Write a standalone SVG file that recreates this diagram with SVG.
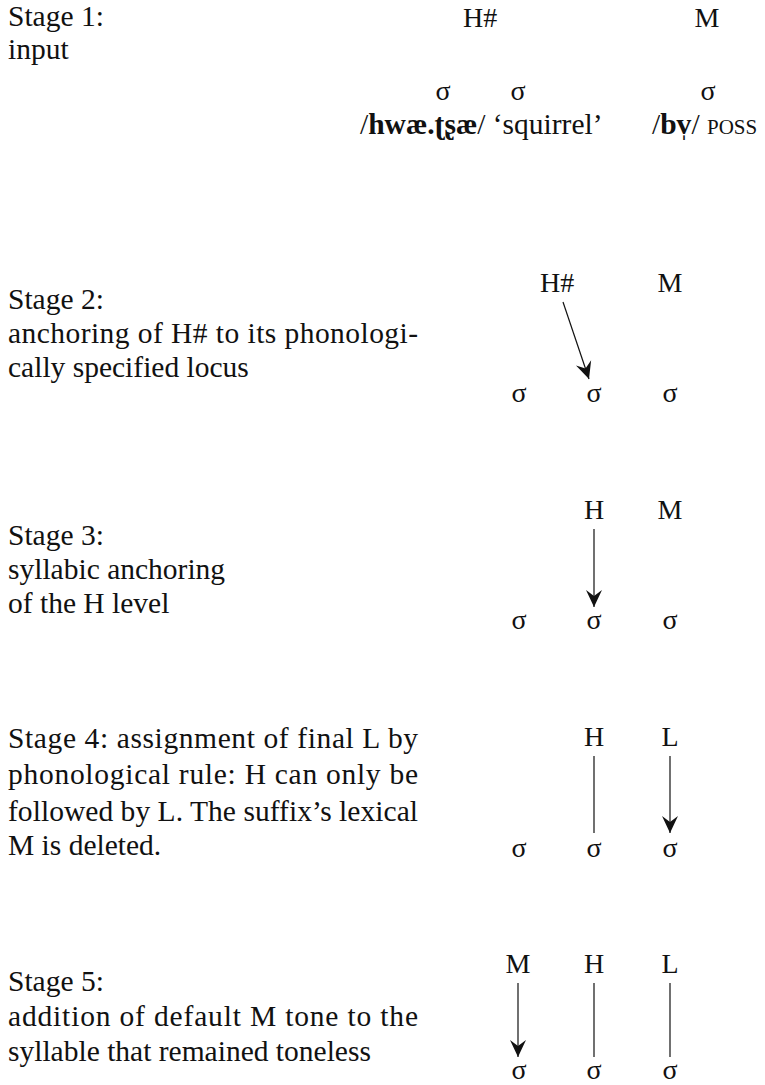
<svg xmlns="http://www.w3.org/2000/svg" width="765" height="1085" viewBox="0 0 765 1085">
<style>
text{font-family:"Liberation Serif","DejaVu Serif",serif;font-size:29.5px;fill:#111}
.t{font-size:28px}
.c{text-anchor:middle}
.sc{font-size:21px}
.b{font-weight:bold}
line{stroke:#111;stroke-width:1.2}
</style>
<defs>
<marker id="ah" markerUnits="userSpaceOnUse" viewBox="-18 -9 19 18" refX="0" refY="0" markerWidth="19" markerHeight="18" orient="auto">
<path d="M0,0 L-17,-8 L-11,0 L-17,8 Z" fill="#111"/>
</marker>
</defs>
<rect width="765" height="1085" fill="#fff"/>

<g id="stage1">
<text x="8" y="26">Stage 1:</text>
<text x="8" y="59">input</text>
<text class="t" x="463" y="27">H#</text>
<text class="t c" x="707" y="27">M</text>
<text class="t c" x="443" y="100">σ</text>
<text class="t c" x="518" y="100">σ</text>
<text class="t c" x="708" y="100">σ</text>
<text x="360" y="134">/<tspan class="b">hwæ.ʈʂæ</tspan>/ ‘squirrel’</text>
<text x="652" y="134">/<tspan class="b">bv̩</tspan>/ <tspan class="sc">POSS</tspan></text>
</g>

<g id="stage2">
<text x="8" y="309">Stage 2:</text>
<text x="8" y="343" textLength="410" lengthAdjust="spacing">anchoring of H# to its phonologi-</text>
<text x="8" y="377">cally specified locus</text>
<text class="t" x="540" y="292">H#</text>
<text class="t c" x="670" y="292">M</text>
<text class="t c" x="519" y="402">σ</text>
<text class="t c" x="594" y="402">σ</text>
<text class="t c" x="670" y="402">σ</text>
</g>

<g id="stage3">
<text x="8" y="545">Stage 3:</text>
<text x="8" y="579">syllabic anchoring</text>
<text x="8" y="613">of the H level</text>
<text class="t c" x="594" y="519">H</text>
<text class="t c" x="670" y="519">M</text>
<text class="t c" x="519" y="629">σ</text>
<text class="t c" x="594" y="629">σ</text>
<text class="t c" x="670" y="629">σ</text>
</g>

<g id="stage4">
<text x="8" y="748" textLength="410" lengthAdjust="spacing">Stage 4: assignment of final L by</text>
<text x="8" y="784" textLength="410" lengthAdjust="spacing">phonological rule: H can only be</text>
<text x="8" y="821" textLength="410" lengthAdjust="spacing">followed by L. The suffix’s lexical</text>
<text x="8" y="855">M is deleted.</text>
<text class="t c" x="594" y="746">H</text>
<text class="t c" x="670" y="746">L</text>
<text class="t c" x="519" y="857">σ</text>
<text class="t c" x="594" y="857">σ</text>
<text class="t c" x="670" y="857">σ</text>
</g>

<g id="stage5">
<text x="8" y="991">Stage 5:</text>
<text x="8" y="1026" textLength="410" lengthAdjust="spacing">addition of default M tone to the</text>
<text x="8" y="1061">syllable that remained toneless</text>
<text class="t c" x="518" y="973">M</text>
<text class="t c" x="594" y="973">H</text>
<text class="t c" x="670" y="973">L</text>
<text class="t c" x="519" y="1079">σ</text>
<text class="t c" x="594" y="1079">σ</text>
<text class="t c" x="670" y="1079">σ</text>
</g>

<g id="connectors">
<line x1="563" y1="302" x2="589" y2="379" marker-end="url(#ah)"/>
<line x1="594" y1="529" x2="594" y2="607" marker-end="url(#ah)"/>
<line x1="594" y1="756" x2="594" y2="833"/>
<line x1="670" y1="756" x2="670" y2="833" marker-end="url(#ah)"/>
<line x1="518" y1="983" x2="518" y2="1057" marker-end="url(#ah)"/>
<line x1="594" y1="983" x2="594" y2="1057"/>
<line x1="670" y1="983" x2="670" y2="1057"/>
</g>
</svg>
